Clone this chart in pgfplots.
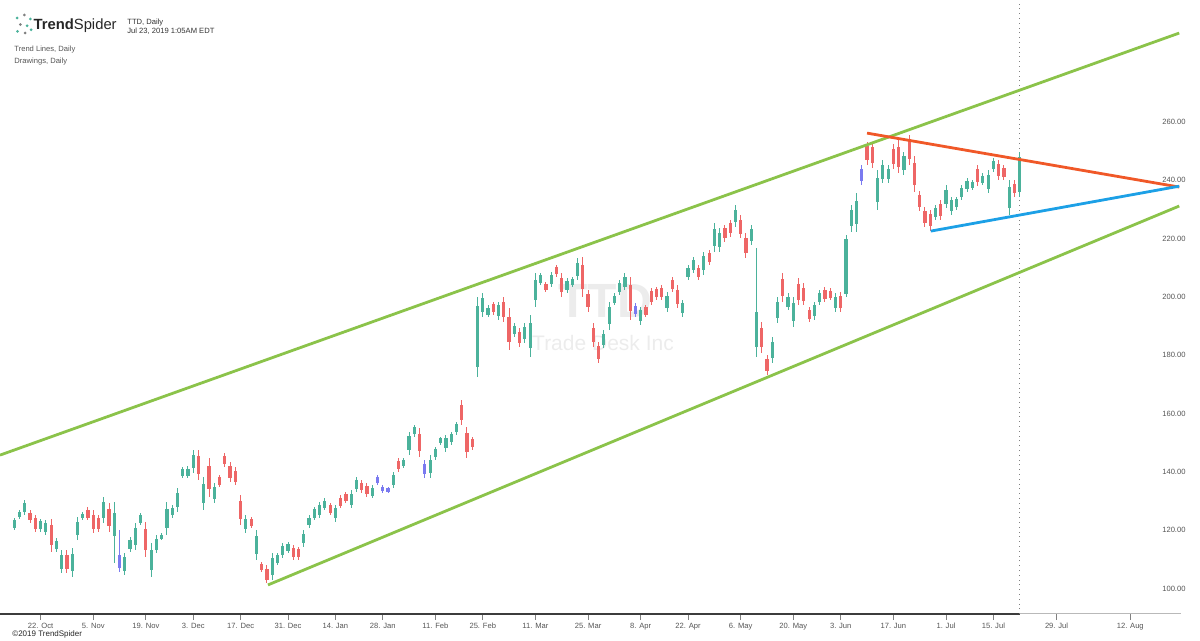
\documentclass[border=0pt]{standalone}
\usepackage{fontspec}
\setmainfont{Liberation Sans}
\usepackage{pgfplots}
\pgfplotsset{compat=1.18}
\usepackage{pgfplotstable}
\definecolor{tsteal}{RGB}{75,178,155}
\definecolor{tsred}{RGB}{238,102,102}
\definecolor{tspurple}{RGB}{122,122,240}
\definecolor{tsgreen}{RGB}{139,195,74}
\definecolor{tsorange}{RGB}{240,88,40}
\definecolor{tsblue}{RGB}{28,160,230}
\definecolor{txtgray}{RGB}{85,85,85}
\definecolor{axisdark}{RGB}{60,60,60}
\definecolor{axislight}{RGB}{185,185,185}
\definecolor{wmark}{RGB}{236,236,236}

% up candles (teal): index, open, high, low, close
\pgfplotstableread{
i o h l c
-5 120.9 124.2 120.1 123.4
-4 124.6 127.0 124.0 126.4
-3 126.3 130.4 125.3 129.4
0 120.3 124.0 119.4 123.1
1 119.4 123.5 118.4 122.5
3 113.6 117.4 112.6 116.4
4 106.9 113.3 105.3 111.7
6 106.0 114.0 104.0 112.0
7 118.3 124.5 116.7 122.9
8 124.1 126.3 123.5 125.7
12 124.3 131.4 122.5 129.6
14 118.0 129.7 108.8 126.0
16 106.2 112.2 104.7 110.7
17 113.6 117.7 112.6 116.7
18 115.1 122.5 113.3 120.7
19 122.6 126.0 121.8 125.2
21 106.3 115.6 104.0 113.3
22 113.4 118.4 112.2 117.2
23 117.2 119.0 116.7 118.5
24 120.7 129.7 118.4 127.4
25 125.1 128.7 124.2 127.8
26 128.0 134.5 126.3 132.9
27 138.7 141.7 138.0 141.0
28 138.8 142.0 138.0 141.2
29 141.3 147.6 139.7 146.0
31 129.3 138.3 127.0 136.0
33 130.8 136.2 129.4 134.8
39 120.3 125.3 119.0 124.0
41 111.9 120.1 109.8 118.0
44 104.8 112.2 103.0 110.4
45 108.9 112.2 108.1 111.4
46 111.5 115.6 110.5 114.6
47 113.0 116.0 112.2 115.2
50 115.5 120.0 114.4 118.9
51 121.7 125.3 120.8 124.4
52 124.4 128.1 123.5 127.2
53 125.3 129.8 124.2 128.7
54 127.8 131.0 127.0 130.2
56 124.1 128.7 123.0 127.6
59 128.8 133.8 127.6 132.6
60 134.3 138.4 133.3 137.4
63 131.9 135.5 131.0 134.6
67 135.6 140.1 134.5 139.0
69 142.1 144.8 141.4 144.1
70 147.4 153.8 145.8 152.2
71 152.9 156.1 152.1 155.3
74 139.6 145.8 138.0 144.2
75 145.0 148.7 144.1 147.8
76 149.9 152.1 149.3 151.5
77 148.1 152.7 147.0 151.6
78 150.2 153.8 149.3 152.9
79 153.6 157.3 152.7 156.4
83 176.0 200.0 172.7 197.0
84 194.7 201.3 193.0 199.6
85 194.0 197.2 193.2 196.4
87 193.4 198.4 192.1 197.1
90 187.3 191.1 186.4 190.2
92 185.6 191.1 184.2 189.7
93 182.4 193.8 179.5 191.0
94 199.0 208.2 196.7 205.9
95 204.9 208.2 204.1 207.4
97 204.5 208.7 203.5 207.7
100 202.3 206.4 201.3 205.4
101 204.2 207.0 203.5 206.3
102 207.3 213.3 205.8 211.8
107 183.7 188.7 182.4 187.4
108 190.6 198.4 188.7 196.5
109 198.1 201.3 197.3 200.5
110 201.7 205.8 200.7 204.8
111 203.5 208.1 202.4 207.0
114 191.7 196.7 190.4 195.4
119 196.4 201.8 195.0 200.4
122 194.4 199.0 193.2 197.8
123 206.8 211.0 205.8 210.0
124 209.2 213.8 208.1 212.7
126 209.1 215.5 207.5 213.9
128 217.5 225.3 215.5 223.3
129 217.1 223.6 215.5 222.0
132 225.6 231.5 224.1 230.0
135 219.2 224.7 217.8 223.3
136 183.0 216.7 179.5 195.0
139 179.1 186.4 177.3 184.6
140 192.8 200.1 191.0 198.3
142 196.7 201.3 195.5 200.1
143 191.9 200.1 189.8 198.0
147 193.4 198.4 192.1 197.1
148 198.3 202.4 197.3 201.4
151 196.3 201.3 195.0 200.0
153 201.0 221.3 200.1 220.0
154 224.2 231.5 222.4 229.7
155 225.0 235.5 222.4 233.0
159 232.5 243.5 229.8 240.8
160 240.6 247.0 239.0 245.4
161 240.3 245.3 239.0 244.0
164 243.4 249.8 241.8 248.2
170 227.4 231.5 226.4 230.5
172 232.0 238.4 230.4 236.8
173 229.4 234.4 228.1 233.1
174 230.7 234.4 229.8 233.5
175 234.3 238.4 233.3 237.4
176 237.0 240.7 236.1 239.8
177 237.4 240.1 236.7 239.4
179 239.2 242.4 238.4 241.6
180 237.1 243.5 235.5 241.9
181 243.8 247.5 242.9 246.6
184 230.5 240.0 228.1 237.6
186 236.0 249.8 234.4 248.0
}\upT

% down candles (red)
\pgfplotstableread{
i o h l c
-2 126.1 127.0 122.5 123.4
-1 124.1 125.3 119.4 120.6
2 121.7 124.0 112.6 114.9
5 111.7 113.3 105.3 106.9
9 127.1 128.0 123.5 124.4
10 125.4 127.0 119.0 120.6
11 124.1 125.3 119.4 120.6
13 127.4 129.4 119.4 121.4
20 120.4 122.8 110.8 113.2
30 145.5 147.6 137.3 139.4
32 142.1 144.8 131.4 134.1
34 138.2 139.0 134.9 135.7
35 145.5 146.5 141.7 142.7
36 142.0 143.4 136.6 138.0
37 140.5 141.7 135.5 136.7
38 130.0 132.0 121.8 123.8
40 123.8 124.5 120.8 121.5
42 108.4 109.1 105.7 106.4
43 106.9 108.1 101.9 103.1
48 114.0 115.0 109.8 110.8
49 113.5 114.4 109.8 110.7
55 128.6 129.4 125.3 126.1
57 131.1 132.0 127.6 128.5
58 132.5 133.3 129.4 130.2
61 136.4 137.3 132.8 133.7
62 135.2 136.2 131.4 132.4
68 143.9 144.8 140.1 141.0
72 153.1 155.0 145.3 147.2
80 163.0 164.7 156.1 157.8
81 153.3 155.5 144.7 146.9
82 151.2 152.1 147.6 148.5
86 197.5 198.4 193.8 194.7
88 198.4 200.1 191.5 193.2
89 193.3 196.2 181.8 184.7
91 188.1 189.4 183.0 184.3
96 204.6 205.3 201.8 202.5
98 210.2 211.0 207.0 207.8
99 206.6 208.2 200.1 201.7
103 211.1 213.8 200.1 202.8
104 200.9 202.4 195.0 196.5
105 189.4 191.0 183.0 184.6
106 183.2 184.7 177.3 178.8
112 204.0 207.0 192.1 195.1
115 196.5 197.3 193.2 194.0
116 201.9 203.0 197.3 198.4
117 202.6 203.5 199.0 199.9
118 203.1 204.1 199.0 200.0
120 206.0 207.0 201.8 202.8
121 202.5 204.1 196.1 197.7
125 210.0 211.0 205.8 206.8
127 215.1 216.1 211.0 212.0
130 223.6 224.7 219.0 220.1
131 225.3 226.4 220.7 221.8
133 226.5 228.1 220.1 221.7
134 220.2 221.9 213.3 215.0
137 189.3 191.5 180.7 182.9
138 178.7 180.1 173.3 174.7
141 206.2 208.1 198.4 200.3
144 204.6 206.4 197.3 199.1
145 203.2 204.7 197.3 198.8
146 195.7 196.7 191.5 192.5
149 202.5 203.5 198.4 199.4
150 202.2 203.0 199.0 199.8
152 200.4 201.8 195.0 196.4
157 251.7 253.3 245.3 246.9
158 251.5 253.3 244.1 245.9
162 250.8 252.5 244.0 245.7
163 251.5 253.8 242.4 244.7
165 253.5 255.5 245.3 247.3
166 245.9 248.4 236.0 238.5
167 235.1 236.5 229.6 231.0
168 229.5 230.8 224.1 225.4
169 228.4 229.8 222.8 224.2
171 231.9 233.3 226.4 227.8
178 243.8 245.3 237.9 239.4
182 245.5 246.9 240.0 241.4
183 244.2 245.3 240.0 241.1
185 238.9 240.0 234.4 235.5
}\downT

% highlighted candles (purple)
\pgfplotstableread{
i o h l c
15 111.5 120.0 105.7 107.0
64 136.2 139.0 135.5 138.3
65 133.4 135.5 132.8 134.9
66 133.3 135.0 132.8 134.5
73 139.2 144.1 138.0 142.9
113 194.1 197.8 193.2 196.9
156 239.9 245.3 238.5 243.9
}\purpT

\newcommand{\smallfont}{\fontsize{3.8pt}{4.5pt}\selectfont}
\pgfplotsset{
  wick/.style={draw=none, no markers, forget plot, error bars/.cd, y dir=both, y explicit, error mark=none,
    error bar style={line width=0.5pt, draw=#1, solid}},
  body/.style={draw=none, no markers, forget plot, error bars/.cd, y dir=both, y explicit, error mark=none,
    error bar style={line width=1.6pt, draw=#1, solid}},
}

\begin{document}
\begin{tikzpicture}
\path[use as bounding box] (0,0) rectangle (600pt,320.5pt);

% watermark
\node[text=wmark, font=\fontsize{24pt}{26pt}\selectfont\bfseries] at (302.5pt,170pt) {TTD};
\node[text=wmark, font=\fontsize{10.5pt}{12pt}\selectfont] at (301.5pt,149pt) {Trade Desk Inc};

% header
\foreach \p/\c in {{(8.6pt,311.5pt)}/tsteal, {(12.2pt,313pt)}/gray, {(15.2pt,311pt)}/tsteal, {(10.2pt,308.2pt)}/gray, {(13.6pt,307.6pt)}/tsteal, {(8.8pt,304.8pt)}/tsteal, {(12.6pt,304pt)}/gray, {(15.6pt,305.6pt)}/tsteal}
  \fill[\c] \p circle (0.75pt);
\node[anchor=base west, inner sep=0, text=black!85, font=\fontsize{7.4pt}{8pt}\selectfont] at (16.6pt,305.5pt) {\textbf{Trend}Spider};
\node[anchor=base west, inner sep=0, text=black!80, font=\smallfont] at (63.5pt,308.3pt) {TTD, Daily};
\node[anchor=base west, inner sep=0, text=black!80, font=\smallfont] at (63.5pt,303.8pt) {Jul 23, 2019 1:05AM EDT};
\node[anchor=base west, inner sep=0, text=txtgray, font=\smallfont] at (7pt,294.6pt) {Trend Lines, Daily};
\node[anchor=base west, inner sep=0, text=txtgray, font=\smallfont] at (7pt,288.6pt) {Drawings, Daily};
\node[anchor=base west, inner sep=0, text=black!85, font=\fontsize{4pt}{4.5pt}\selectfont] at (6pt,2.1pt) {\textcopyright 2019 TrendSpider};

\begin{axis}[
  at={(0pt,13.5pt)}, anchor=south west,
  scale only axis, width=590.5pt, height=307pt,
  xmin=-7.71, xmax=216.64, ymin=91.33, ymax=301.84,
  clip=false,
  axis line style={draw=none},
  xtick={0,10,20,29,38,47,56,65,75,84,94,104,114,123,133,143,152,162,172,181,193,207},
  xticklabels={22. Oct,5. Nov,19. Nov,3. Dec,17. Dec,31. Dec,14. Jan,28. Jan,11. Feb,25. Feb,11. Mar,25. Mar,8. Apr,22. Apr,6. May,20. May,3. Jun,17. Jun,1. Jul,15. Jul,29. Jul,12. Aug},
  xtick pos=bottom,
  tick align=outside,
  major tick length=3pt,
  xtick style={draw=gray, line width=0.4pt},
  xticklabel style={font=\smallfont, text=txtgray, anchor=north, text height=2.8pt, text depth=0pt, yshift=2.2pt},
  ytick={100,120,...,260},
  ytick style={draw=none},
  yticklabel pos=right,
  yticklabel style={font=\smallfont, text=txtgray, anchor=east, xshift=2.8pt,
    /pgf/number format/fixed, /pgf/number format/fixed zerofill, /pgf/number format/precision=2},
  /pgf/number format/assume math mode=true,
]
% axis base line and last-bar marker
\draw[axisdark, line width=0.75pt] (axis cs:-7.71,91.33) -- (axis cs:186,91.33);
\draw[axislight, line width=0.5pt] (axis cs:186,91.33) -- (axis cs:216.64,91.33);
\draw[gray, dotted, line width=0.4pt] (axis cs:186,91.33) -- (axis cs:186,301.84);

% wicks
\addplot[wick=tsteal] table[x=i, y expr={(\thisrow{h}+\thisrow{l})/2}, y error expr={(\thisrow{h}-\thisrow{l})/2}] {\upT};
\addplot[wick=tsred] table[x=i, y expr={(\thisrow{h}+\thisrow{l})/2}, y error expr={(\thisrow{h}-\thisrow{l})/2}] {\downT};
\addplot[wick=tspurple] table[x=i, y expr={(\thisrow{h}+\thisrow{l})/2}, y error expr={(\thisrow{h}-\thisrow{l})/2}] {\purpT};
% bodies
\addplot[body=tsteal] table[x=i, y expr={(\thisrow{o}+\thisrow{c})/2}, y error expr={abs(\thisrow{c}-\thisrow{o})/2}] {\upT};
\addplot[body=tsred] table[x=i, y expr={(\thisrow{o}+\thisrow{c})/2}, y error expr={abs(\thisrow{c}-\thisrow{o})/2}] {\downT};
\addplot[body=tspurple] table[x=i, y expr={(\thisrow{o}+\thisrow{c})/2}, y error expr={abs(\thisrow{c}-\thisrow{o})/2}] {\purpT};

% trend lines
\addplot[no markers, line width=1.4pt, tsgreen] coordinates {(-7.71,145.8) (216.3,290.5)};
\addplot[no markers, line width=1.4pt, tsgreen] coordinates {(43.2,101.3) (216.3,231.2)};
\addplot[no markers, line width=1.4pt, tsorange] coordinates {(157,256.2) (216.3,237.7)};
\addplot[no markers, line width=1.4pt, tsblue] coordinates {(169.1,222.6) (216.3,238.0)};
\end{axis}
\end{tikzpicture}
\end{document}
